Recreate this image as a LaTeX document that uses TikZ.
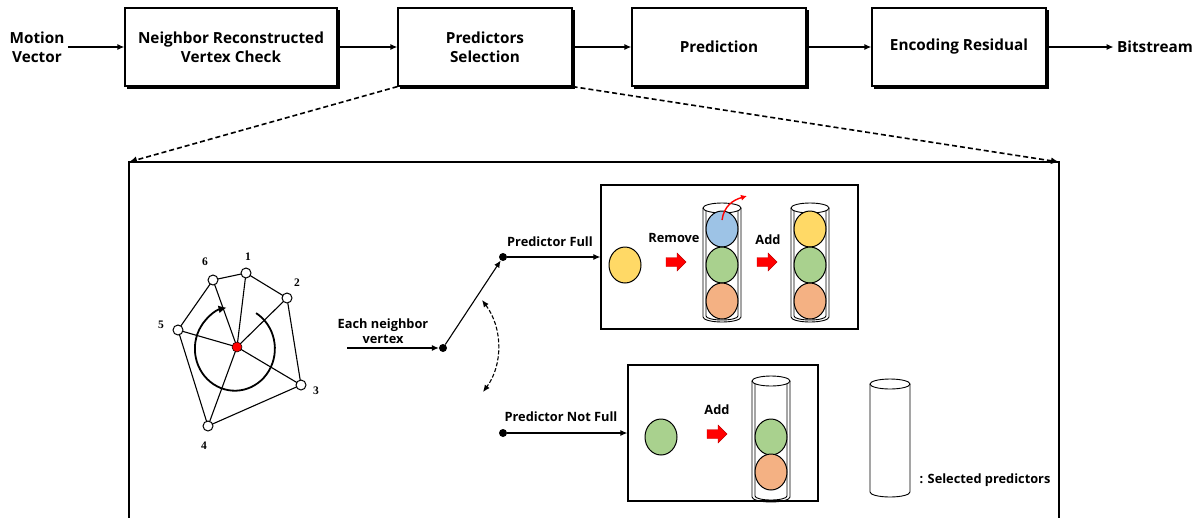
\documentclass[tikz,border=0pt]{standalone}
\usepackage{fontspec}
\setmainfont{Open Sans}
\newfontfamily\numfont{Liberation Serif}
\usetikzlibrary{arrows.meta}

\newcommand\tube[3]{%
  \draw[tubeline] (#1,#2) ellipse [x radius=19, y radius=5];
  \draw[tubeline] (#1-19,#2) -- (#1-19,#3) arc[start angle=180, end angle=0, x radius=19, y radius=5] -- (#1+19,#2);
  \draw[tubeline] (#1-16,#2+3) -- (#1-16,#3-1) arc[start angle=180, end angle=0, x radius=16, y radius=4] -- (#1+16,#2+3);
}
\newcommand\ball[3]{\draw[ballline, fill=#3] (#1,#2) ellipse [x radius=16, y radius=18];}
\newcommand\redblock[2]{\fill[red, draw=red!75!black, line width=0.4pt] (#1-10,#2-4.5) -- (#1+1,#2-4.5) -- (#1+1,#2-9) -- (#1+10,#2) -- (#1+1,#2+9) -- (#1+1,#2+4.5) -- (#1-10,#2+4.5) -- cycle;}

\definecolor{cyel}{HTML}{FFD966}
\definecolor{cblu}{HTML}{9DC3E6}
\definecolor{cgrn}{HTML}{A9D18E}
\definecolor{corg}{HTML}{F4B183}

\begin{document}
\begin{tikzpicture}[x=1pt,y=-1pt,
  blk/.style={draw, line width=1.2pt, fill=white, minimum height=78pt, align=center,
    font=\bfseries\fontsize{15.3}{19}\selectfont,
    preaction={fill=black, draw=black, line width=1.2pt, transform canvas={xshift=2.5pt, yshift=-2.5pt}}},
  lbl/.style={font=\bfseries\fontsize{15.3}{19}\selectfont, align=center},
  sm/.style={font=\bfseries\fontsize{12.8}{15}\selectfont, align=center},
  num/.style={font=\numfont\bfseries\fontsize{11.5}{13}\selectfont},
  flow/.style={line width=1.3pt, -{Latex[length=7pt,width=6pt]}},
  arr/.style={line width=1.1pt, -{Latex[length=7pt,width=6pt]}},
  vtx/.style={circle, draw, fill=white, line width=1pt, minimum size=10pt, inner sep=0pt},
  dot/.style={circle, fill=black, minimum size=8pt, inner sep=0pt},
  inbox/.style={draw, line width=1.3pt},
  tubeline/.style={line width=0.9pt},
  ballline/.style={line width=1pt},
  zoomline/.style={line width=1.6pt, dash pattern=on 5pt off 3pt, -{Latex[length=8pt,width=7pt]}}
]
\useasboundingbox (0,0) rectangle (1198,517);

% top row
\node[lbl] (mv) at (37,47) {Motion\\Vector};
\node[blk, minimum width=212pt] (b1) at (231,47) {Neighbor Reconstructed\\Vertex Check};
\node[blk, minimum width=174pt] (b2) at (485,47) {Predictors\\Selection};
\node[blk, minimum width=174pt] (b3) at (719,47) {Prediction};
\node[blk, minimum width=174pt] (b4) at (959,47) {Encoding Residual};
\node[lbl] (bs) at (1155,47) {Bitstream};
\draw[flow] (mv) -- (b1);
\draw[flow] (b1) -- (b2);
\draw[flow] (b2) -- (b3);
\draw[flow] (b3) -- (b4);
\draw[flow] (b4) -- (bs);

% big box
\coordinate (tl) at (129,162);
\coordinate (tr) at (1059,162);
\coordinate (bl) at (129,520);
\coordinate (br) at (1059,520);
\draw[line width=1.6pt] (bl) -- (tl) -- (tr) -- (br);
\draw[zoomline] (b2.south west) -- (tl);
\draw[zoomline] (b2.south east) -- (tr);

% graph
\coordinate (c) at (237,347);
\coordinate (p1) at (246,273);
\coordinate (p2) at (287,298);
\coordinate (p3) at (301,385);
\coordinate (p4) at (208,426);
\coordinate (p5) at (178,330);
\coordinate (p6) at (213,280);
\draw[line width=1.1pt] (p1) -- (p2) -- (p3) -- (p4) -- (p5) -- (p6) -- cycle;
\foreach \i in {1,...,6} \draw[line width=1.1pt] (c) -- (p\i);
\draw[line width=1.8pt, -{Latex[length=8pt,width=8pt]}] ([shift={(-58:36 and 40)}]c) arc[start angle=-58, end angle=258, x radius=40, y radius=42];
\foreach \i in {1,...,6} \node[vtx] (v\i) at (p\i) {};
\node[circle, fill=red, draw=black, line width=0.5pt, minimum size=10pt, inner sep=0pt] (cv) at (c) {};
\node[num] at (248,257) {1};
\node[num] at (297,283) {2};
\node[num] at (316,391) {3};
\node[num] at (204,446) {4};
\node[num] at (161,325) {5};
\node[num] at (205,262) {6};

% switch
\node[sm] (enl) at (383,331) {Each neighbor\\vertex};
\coordinate (ein) at (347,348);
\node[dot] (d0) at (443,348) {};
\node[dot] (d1) at (503,257) {};
\node[dot] (d2) at (503,433) {};
\draw[arr] (ein) -- (d0);
\draw[arr] (d0) -- (d1);
\coordinate (sw1) at (482,300);
\coordinate (sw2) at (483,392);
\draw[line width=1.1pt, dash pattern=on 4pt off 2pt, {Latex[length=7pt,width=6pt]}-{Latex[length=7pt,width=6pt]}] (sw1) .. controls (503,328) and (503,365) .. (sw2);

\node[inbox, minimum width=257pt, minimum height=144pt] (bA) at (729.5,257) {};
\node[inbox, minimum width=190pt, minimum height=136pt] (bB) at (723,433) {};
\draw[arr] (d1) -- (bA.west);
\draw[arr] (d2) -- (bB.west);
\node[sm] at (550,242) {Predictor Full};
\node[sm] at (561,417) {Predictor Not Full};

% box A
\ball{625}{265}{cyel}
\node[sm] at (674,238) {Remove};
\redblock{676}{262}
\tube{722}{208}{317}
\ball{722}{229}{cblu}
\ball{722}{265}{cgrn}
\ball{722}{301}{corg}
\draw[red, line width=1.4pt, -{Latex[length=6pt,width=6pt]}] (722,220) .. controls (724,206) and (733,200) .. (747,196);
\node[sm] at (768,240) {Add};
\redblock{767}{262}
\tube{810}{208}{317}
\ball{810}{229}{cyel}
\ball{810}{265}{cgrn}
\ball{810}{301}{corg}

% box B
\ball{661}{437}{cgrn}
\node[sm] at (717,410) {Add};
\redblock{717}{434}
\tube{771}{381}{497}
\ball{771}{437}{cgrn}
\ball{771}{472}{corg}

% legend
\draw[tubeline] (890,384) ellipse [x radius=20, y radius=5];
\draw[tubeline] (870,384) -- (870,492) arc[start angle=180, end angle=0, x radius=20, y radius=5] -- (910,384);
\node[sm] at (985,480) {: Selected predictors};
\end{tikzpicture}
\end{document}
